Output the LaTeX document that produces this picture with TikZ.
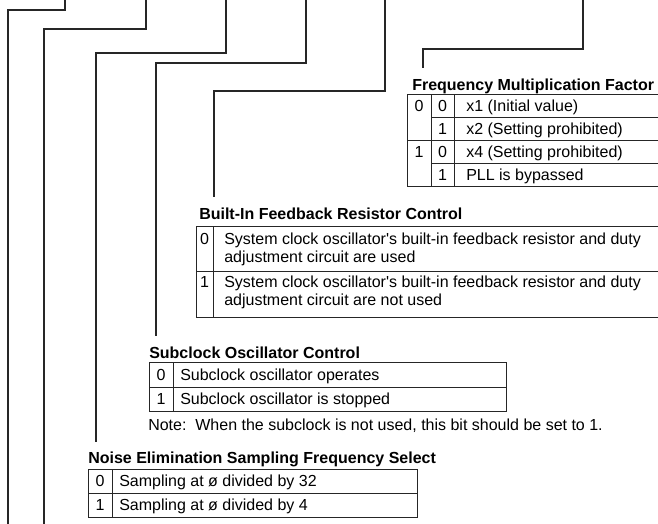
\documentclass[tikz,border=0pt]{standalone}
\usepackage{fontspec}
\setmainfont{Liberation Sans}[Ligatures=TeXOff]
\usepackage{tikz}
\usetikzlibrary{positioning, calc}

\begin{document}
\begin{tikzpicture}[
    x=0.75pt, y=-0.75pt,
    lead/.style={draw=black!85, line width=0.8pt},
    grid/.style={draw=black!85, line width=0.75pt},
    ttl/.style={font=\fontsize{12}{14}\selectfont\bfseries, anchor=base west, inner sep=0pt},
    cell/.style={font=\fontsize{12}{14}\selectfont, anchor=base west, inner sep=0pt},
    bit/.style={font=\fontsize{12}{14}\selectfont, anchor=base, inner sep=0pt},
    twoline/.style={font=\fontsize{12}{13}\selectfont, anchor=base west, align=left, inner sep=0pt}
]
    \useasboundingbox (0,0) rectangle (658,524);

    % Leader lines from the register bits
    \coordinate (t1) at (65,0);  \coordinate (e1) at (8,524);
    \coordinate (t2) at (146,0); \coordinate (e2) at (44,524);
    \coordinate (t3) at (226,0); \coordinate (e3) at (96,442);
    \coordinate (t4) at (306,0); \coordinate (e4) at (156,336);
    \coordinate (t5) at (385,0); \coordinate (e5) at (214,197);
    \coordinate (t6) at (583,0); \coordinate (e6) at (423,68);

    \draw[lead] (t1) |- (8,10) -- (e1);
    \draw[lead] (t2) |- (44,29) -- (e2);
    \draw[lead] (t3) |- (96,53) -- (e3);
    \draw[lead] (t4) |- (156,63) -- (e4);
    \draw[lead] (t5) |- (214,91) -- (e5);
    \draw[lead] (t6) |- (423,49) -- (e6);

    % Frequency Multiplication Factor
    \node (fmf) at (412, 91) [ttl] {Frequency Multiplication Factor};
    \draw[grid] (407,95) rectangle (662,187);
    \draw[grid] (431,95) -- (431,187);
    \draw[grid] (454,95) -- (454,187);
    \draw[grid] (431,118) -- (662,118);
    \draw[grid] (407,141) -- (662,141);
    \draw[grid] (431,164) -- (662,164);
    \node (fa0) at (419, 112) [bit] {0};
    \node (fa1) at (419, 158) [bit] {1};
    \node (fb0) at (442.5, 112) [bit] {0};
    \node (fb1) at (442.5, 135) [bit] {1};
    \node (fb2) at (442.5, 158) [bit] {0};
    \node (fb3) at (442.5, 181) [bit] {1};
    \node (fx1) at (466, 112) [cell] {x1 (Initial value)};
    \node (fx2) at (466, 135) [cell] {x2 (Setting prohibited)};
    \node (fx4) at (466, 158) [cell] {x4 (Setting prohibited)};
    \node (fpll) at (466, 181) [cell] {PLL is bypassed};

    % Built-In Feedback Resistor Control
    \node (bifr) at (199, 220) [ttl] {Built-In Feedback Resistor Control};
    \draw[grid] (196,227) rectangle (662,318);
    \draw[grid] (213,227) -- (213,318);
    \draw[grid] (196,272) -- (662,272);
    \node (rt0) at (224, 262.3) [twoline] {System clock oscillator's built-in feedback resistor and duty\\adjustment circuit are used};
    \node (rt1) at (224, 305.3) [twoline] {System clock oscillator's built-in feedback resistor and duty\\adjustment circuit are not used};
    \node (rb0) at (204.5, 245) [bit] {0};
    \node (rb1) at (204.5, 288) [bit] {1};

    % Subclock Oscillator Control
    \node (sub) at (149, 359) [ttl] {Subclock Oscillator Control};
    \draw[grid] (149,363) rectangle (506,412);
    \draw[grid] (173,363) -- (173,412);
    \draw[grid] (149,388) -- (506,388);
    \node (sb0) at (161, 381) [bit] {0};
    \node (sb1) at (161, 405) [bit] {1};
    \node (st0) at (180, 381) [cell] {Subclock oscillator operates};
    \node (st1) at (180, 405) [cell] {Subclock oscillator is stopped};
    \node (note) at (148, 431) [cell] {Note:\ \ When the subclock is not used, this bit should be set to 1.};

    % Noise Elimination Sampling Frequency Select
    \node (nse) at (88, 464) [ttl] {Noise Elimination Sampling Frequency Select};
    \draw[grid] (88,470) rectangle (417,517);
    \draw[grid] (112,470) -- (112,517);
    \draw[grid] (88,494) -- (417,494);
    \node (nb0) at (100, 487) [bit] {0};
    \node (nb1) at (100, 511) [bit] {1};
    \node (nt0) at (119, 487) [cell] {Sampling at ø divided by 32};
    \node (nt1) at (119, 511) [cell] {Sampling at ø divided by 4};
\end{tikzpicture}
\end{document}
